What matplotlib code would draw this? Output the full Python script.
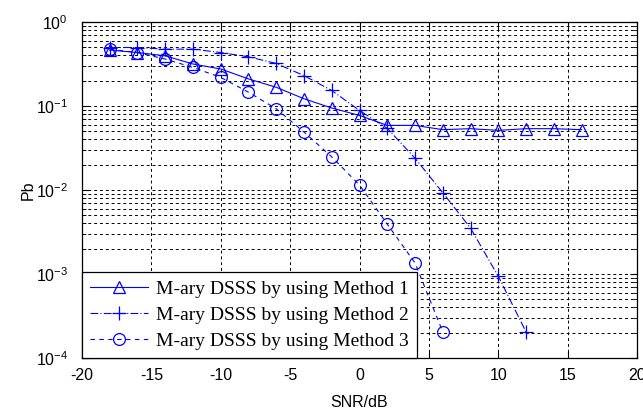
import matplotlib
matplotlib.use("Agg")
import matplotlib.pyplot as plt
from matplotlib.ticker import LogLocator, NullFormatter

snr1 = [-18, -16, -14, -12, -10, -8, -6, -4, -2, 0, 2, 4, 6, 8, 10, 12, 14, 16]
pb1 = [0.463, 0.433, 0.396, 0.316, 0.276, 0.210, 0.167, 0.122, 0.0947, 0.0772,
       0.0588, 0.0588, 0.0523, 0.0537, 0.0513, 0.0537, 0.0537, 0.0523]

snr2 = [-18, -16, -14, -12, -10, -8, -6, -4, -2, 0, 2, 4, 6, 8, 10, 12]
pb2 = [0.497, 0.497, 0.475, 0.475, 0.433, 0.385, 0.321, 0.230, 0.153, 0.0885,
       0.0542, 0.0239, 0.00929, 0.00352, 0.000942, 0.000205]

snr3 = [-18, -16, -14, -12, -10, -8, -6, -4, -2, 0, 2, 4, 6]
pb3 = [0.475, 0.433, 0.362, 0.288, 0.219, 0.146, 0.0927, 0.0490, 0.0248,
       0.01146, 0.00393, 0.001355, 0.000205]

labels = ["M-ary DSSS by using Method 1",
          "M-ary DSSS by using Method 2",
          "M-ary DSSS by using Method 3"]
xticks = [-20, -15, -10, -5, 0, 5, 10, 15, 20]

plt.rcParams['font.family'] = ['Liberation Sans', 'DejaVu Sans']
plt.rcParams['mathtext.default'] = 'regular'

fig = plt.figure(figsize=(6.43, 4.12), dpi=100)
ax = fig.add_axes([0.1275, 0.131, 0.8632, 0.8156])

blue = (0, 0, 1)
ax.plot(snr1, pb1, color=blue, lw=0.8, marker='^', ms=8.5, mfc='none',
        mec=blue, mew=0.9, label=labels[0])
ax.plot(snr2, pb2, color=blue, lw=0.8, marker='+', ms=10, mew=0.9,
        dashes=(7, 2, 1, 2), label=labels[1])
ax.plot(snr3, pb3, color=blue, lw=0.8, marker='o', ms=8.5, mfc='none',
        mec=blue, mew=0.9, dashes=(4, 4), label=labels[2])

ax.set_yscale('log')
ax.set_xlim(-20, 20)
ax.set_ylim(1e-4, 1)
ax.set_xticks(xticks)
ax.set_xticklabels([str(t) for t in xticks])
ax.yaxis.set_major_locator(LogLocator(base=10, numticks=10))
ax.yaxis.set_minor_locator(LogLocator(base=10, subs=range(2, 10), numticks=20))
ax.yaxis.set_minor_formatter(NullFormatter())

ax.grid(True, which='major', axis='both', color='black', lw=0.7,
        linestyle=(0, (3, 3)))
ax.grid(True, which='minor', axis='y', color='black', lw=0.7,
        linestyle=(0, (3, 3)))

ax.tick_params(which='both', direction='in', top=True, right=True,
               labelsize=11.5, colors='black')
ax.tick_params(which='major', length=5, width=0.8)
ax.tick_params(axis='x', which='major', pad=7)
ax.tick_params(axis='y', which='major', pad=10)
ax.tick_params(which='minor', length=3, width=0.6)
for s in ax.spines.values():
    s.set_linewidth(0.9)
    s.set_color('black')

ax.set_xlabel("SNR/dB", fontsize=11.5, labelpad=9)
ax.set_ylabel("Pb", fontsize=11.5, labelpad=0)

leg = ax.legend(loc='lower left', borderaxespad=0, fancybox=False,
                edgecolor='black', framealpha=1,
                prop={'family': 'Liberation Serif', 'size': 14},
                handlelength=3.0, handletextpad=0.4, labelspacing=0.45,
                borderpad=0.4)
leg.get_frame().set_linewidth(0.9)

fig.savefig("out.png", dpi=100)
